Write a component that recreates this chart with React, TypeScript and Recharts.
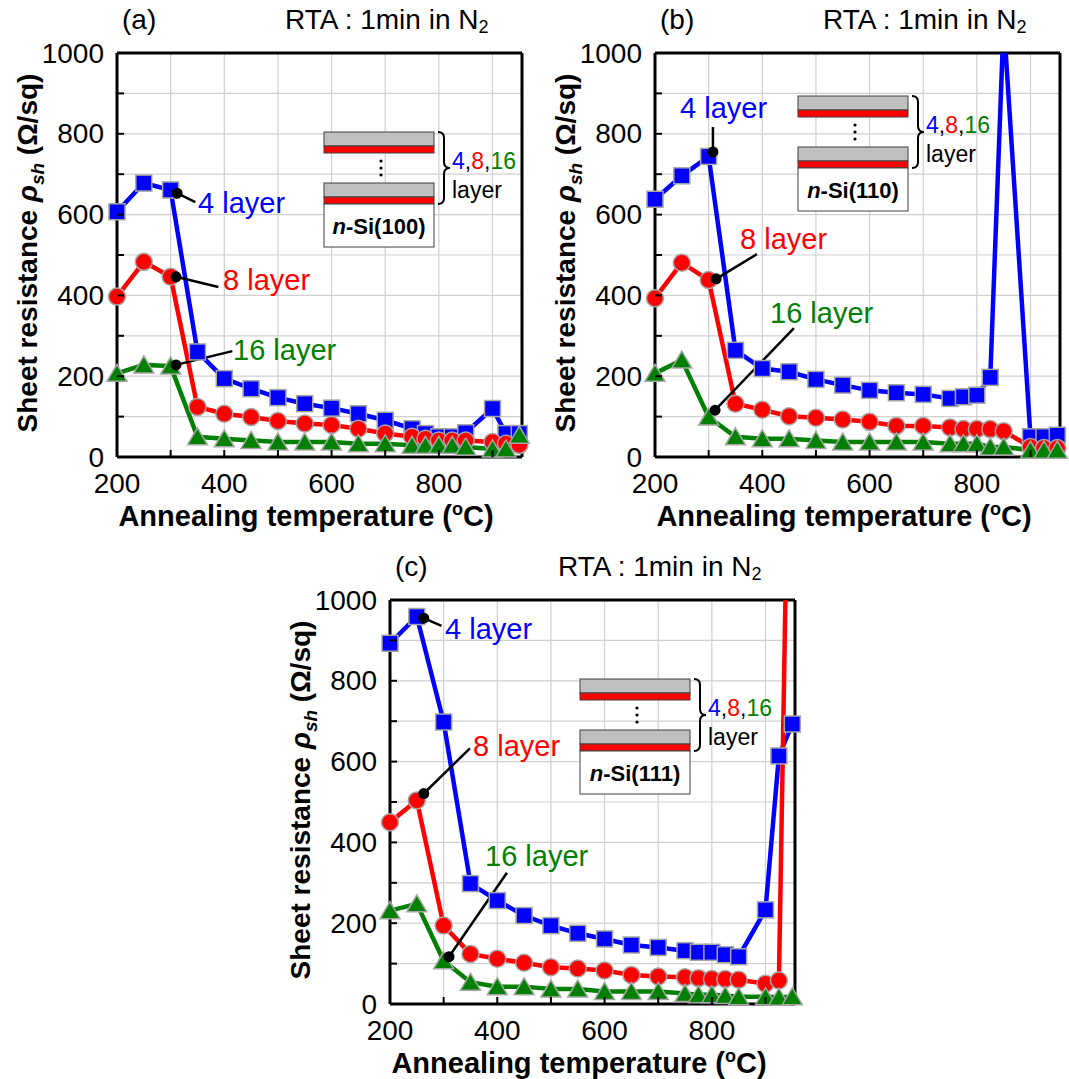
import React from "react";
import {
  LineChart,
  Line,
  XAxis,
  YAxis,
  CartesianGrid,
  ReferenceLine,
  ReferenceDot,
} from "recharts";

// annealing temperatures (°C)
const temps = [200, 250, 300, 350, 400, 450, 500, 550, 600, 650, 700, 750, 775, 800, 825, 850, 900, 925, 950];

// (a) n-Si(100)
const a4 = [607, 678, 661, 260, 194, 169, 147, 132, 121, 107, 91, 70, 58, 50, 50, 60, 120, 58, 58];
const a8 = [397, 483, 446, 124, 107, 99, 89, 83, 79, 70, 58, 50, 45, 41, 41, 41, 37, 33, 30];
const a16 = [207, 228, 225, 50, 45, 41, 37, 37, 37, 33, 33, 29, 29, 29, 29, 25, 20, 20, 54];

// (b) n-Si(110)
const b4 = [638, 696, 744, 264, 219, 211, 192, 178, 165, 159, 155, 145, 149, 153, 197, 1080, 50, 50, 54];
const b8 = [393, 481, 438, 132, 117, 101, 97, 93, 87, 77, 77, 73, 69, 69, 69, 64, 25, 22, 22];
const b16 = [207, 240, 99, 50, 45, 45, 41, 37, 37, 37, 37, 33, 33, 33, 25, 25, 17, 17, 17];

// (c) n-Si(111)
const c4 = [893, 959, 698, 298, 256, 219, 194, 175, 161, 146, 140, 132, 128, 128, 122, 117, 233, 614, 693];
const c8 = [450, 504, 194, 124, 112, 102, 91, 88, 83, 72, 68, 66, 64, 62, 62, 60, 50, 58, 2000];
const c16 = [231, 248, 107, 54, 43, 43, 37, 37, 31, 31, 31, 26, 23, 23, 21, 18, 18, 17, 18];

const xTicks = [200, 300, 400, 500, 600, 700, 800, 900];
const yTicks = [0, 100, 200, 300, 400, 500, 600, 700, 800, 900, 1000];

const FONT = '"Liberation Sans", Arial, Helvetica, sans-serif';
const BLUE = "#0000ff";
const RED = "#ff0000";
const GREEN = "#008000";
const EDGE = "#a6a6a6";

const XTick = (p: any) => {
  const v = p.payload.value;
  return (
    <g>
      {v > 200 && <line x1={p.x} x2={p.x} y1={p.y} y2={p.y - 7} stroke="#000" strokeWidth={2} />}
      {v % 200 === 0 && (
        <text x={p.x} y={p.y + 26} textAnchor="middle" dominantBaseline="central" fontSize={28} fontFamily={FONT} fill="#000">
          {v}
        </text>
      )}
    </g>
  );
};

const YTick = (p: any) => {
  const v = p.payload.value;
  return (
    <g>
      {v > 0 && v < 1000 && <line x1={p.x} x2={p.x + 7} y1={p.y} y2={p.y} stroke="#000" strokeWidth={2} />}
      {v % 200 === 0 && (
        <text x={p.x - 13} y={p.y} textAnchor="end" dominantBaseline="central" fontSize={28} fontFamily={FONT} fill="#000">
          {v}
        </text>
      )}
    </g>
  );
};

const square = (p: any) =>
  p.cy == null ? <g key={`s${p.index}`} /> : (
    <rect key={`s${p.index}`} x={p.cx - 8} y={p.cy - 8} width={16} height={16} fill={BLUE} stroke={EDGE} strokeWidth={1.5} />
  );

const circle = (p: any) =>
  p.cy == null ? <g key={`c${p.index}`} /> : (
    <circle key={`c${p.index}`} cx={p.cx} cy={p.cy} r={8.5} fill={RED} stroke={EDGE} strokeWidth={1.5} />
  );

const triangle = (p: any) =>
  p.cy == null ? <g key={`t${p.index}`} /> : (
    <polygon
      key={`t${p.index}`}
      points={`${p.cx},${p.cy - 9} ${p.cx + 10},${p.cy + 8} ${p.cx - 10},${p.cy + 8}`}
      fill={GREEN}
      stroke={EDGE}
      strokeWidth={1.5}
    />
  );

type Ann = { text: string; color: string; dot: [number, number]; end: [number, number]; lx: number; ly: number };

type PanelProps = {
  x: number;
  y: number;
  w: number;
  letter: string;
  substrate: string;
  s4: number[];
  s8: number[];
  s16: number[];
  inset: [number, number];
  anns: Ann[];
};

function Inset({ substrate }: { substrate: string }) {
  return (
    <svg width={200} height={120} style={{ overflow: "visible" }}>
      <rect x={0} y={0} width={110} height={14} fill="#bfbfbf" stroke="#404040" strokeWidth={1} />
      <rect x={0} y={14} width={110} height={7} fill={RED} stroke="#404040" strokeWidth={1} />
      <circle cx={57} cy={29} r={1.6} fill="#000" />
      <circle cx={57} cy={36} r={1.6} fill="#000" />
      <circle cx={57} cy={43} r={1.6} fill="#000" />
      <rect x={0} y={51} width={110} height={14} fill="#bfbfbf" stroke="#404040" strokeWidth={1} />
      <rect x={0} y={65} width={110} height={7} fill={RED} stroke="#404040" strokeWidth={1} />
      <rect x={0} y={72} width={110} height={43} fill="#fff" stroke="#404040" strokeWidth={1} />
      <text x={55} y={94} textAnchor="middle" dominantBaseline="central" fontSize={22} fontWeight="bold" fontFamily={FONT}>
        <tspan fontStyle="italic">n</tspan>-{substrate}
      </text>
      <path d="M114,0 Q120,0 120,6 L120,30 Q120,36 126,36 Q120,36 120,42 L120,66 Q120,72 114,72" fill="none" stroke="#000" strokeWidth={2} />
      <text x={128} y={29} dominantBaseline="central" fontSize={23} fontFamily={FONT}>
        <tspan fill={BLUE}>4</tspan>
        <tspan fill="#000">,</tspan>
        <tspan fill={RED}>8</tspan>
        <tspan fill="#000">,</tspan>
        <tspan fill={GREEN}>16</tspan>
      </text>
      <text x={128} y={58} dominantBaseline="central" fontSize={23} fontFamily={FONT} fill="#000">
        layer
      </text>
    </svg>
  );
}

function Panel({ x, y, w, letter, substrate, s4, s8, s16, inset, anns }: PanelProps) {
  const rows = temps.map((t, i) => ({
    t,
    s4: s4[i],
    s8: s8[i],
    s16: s16[i],
    m4: s4[i] <= 1000 ? s4[i] : null,
    m8: s8[i] <= 1000 ? s8[i] : null,
    m16: s16[i] <= 1000 ? s16[i] : null,
  }));
  const px = x + 117;
  const py = y + 53;
  const abs = (l: number, t: number): React.CSSProperties => ({ position: "absolute", left: l, top: t, whiteSpace: "nowrap" });

  return (
    <>
      <div style={{ position: "absolute", left: x, top: y }}>
        <LineChart width={w} height={530} data={rows} margin={{ top: 53, right: w - 522, bottom: 33, left: 57 }}>
          <CartesianGrid stroke="#cfcfcf" strokeWidth={1.2} />
          <XAxis
            dataKey="t"
            type="number"
            domain={[200, 955]}
            ticks={xTicks}
            interval={0}
            tickSize={0}
            tickMargin={0}
            tick={XTick}
            height={40}
            axisLine={{ stroke: "#000", strokeWidth: 3 }}
          />
          <YAxis
            type="number"
            domain={[0, 1000]}
            ticks={yTicks}
            interval={0}
            width={60}
            tickSize={0}
            tickMargin={0}
            tick={YTick}
            axisLine={{ stroke: "#000", strokeWidth: 3 }}
          />
          <YAxis yAxisId="clip" hide width={0} type="number" domain={[0, 1000]} allowDataOverflow />
          <ReferenceLine y={1000} stroke="#000" strokeWidth={3} />
          <ReferenceLine x={955} stroke="#000" strokeWidth={3} />

          <Line yAxisId="clip" dataKey="s4" stroke={BLUE} strokeWidth={4.5} dot={false} activeDot={false} isAnimationActive={false} />
          <Line dataKey="m4" stroke="none" dot={square} activeDot={false} isAnimationActive={false} />
          <Line yAxisId="clip" dataKey="s8" stroke={RED} strokeWidth={4.5} dot={false} activeDot={false} isAnimationActive={false} />
          <Line dataKey="m8" stroke="none" dot={circle} activeDot={false} isAnimationActive={false} />
          <Line yAxisId="clip" dataKey="s16" stroke={GREEN} strokeWidth={4.5} dot={false} activeDot={false} isAnimationActive={false} />
          <Line dataKey="m16" stroke="none" dot={triangle} activeDot={false} isAnimationActive={false} />

          {anns.map((a) => (
            <ReferenceLine
              key={`l${a.text}`}
              segment={[
                { x: a.dot[0], y: a.dot[1] },
                { x: a.end[0], y: a.end[1] },
              ]}
              stroke="#000"
              strokeWidth={2.5}
            />
          ))}
          {anns.map((a) => (
            <ReferenceDot key={`d${a.text}`} x={a.dot[0]} y={a.dot[1]} r={5.5} fill="#000" stroke="none" />
          ))}
        </LineChart>
      </div>

      {/* titles */}
      <div style={{ ...abs(px + 5, py - 50), fontSize: 28, lineHeight: "34px" }}>({letter})</div>
      <div style={{ ...abs(px + 168, py - 50), fontSize: 28, lineHeight: "34px" }}>
        RTA : 1min in N<sub style={{ fontSize: 18, verticalAlign: "-4px", lineHeight: 0 }}>2</sub>
      </div>

      {/* axis titles */}
      <div
        style={{
          ...abs(px - 89, py + 200),
          transform: "translate(-50%, -50%) rotate(-90deg)",
          fontSize: 28,
          fontWeight: "bold",
        }}
      >
        Sheet resistance <i>ρ<sub style={{ fontSize: 19, lineHeight: 0 }}>sh</sub></i> (Ω/sq)
      </div>
      <div
        style={{
          ...abs(px + 189, py + 463),
          transform: "translate(-50%, -50%)",
          fontSize: 29,
          fontWeight: "bold",
          lineHeight: "30px",
        }}
      >
        Annealing temperature (<sup style={{ fontSize: 18, lineHeight: 0 }}>o</sup>C)
      </div>

      {/* inset */}
      <div style={abs(inset[0], inset[1])}>
        <Inset substrate={substrate} />
      </div>

      {/* series labels */}
      {anns.map((a) => (
        <div
          key={`t${a.text}`}
          style={{ ...abs(px + a.lx, py + a.ly), transform: "translateY(-50%)", fontSize: 29, color: a.color, lineHeight: "34px" }}
        >
          {a.text}
        </div>
      ))}
    </>
  );
}

const panels: PanelProps[] = [
  {
    x: 0,
    y: 0,
    w: 538,
    letter: "a",
    substrate: "Si(100)",
    s4: a4,
    s8: a8,
    s16: a16,
    inset: [324, 132],
    anns: [
      { text: "4 layer", color: BLUE, dot: [312, 653], end: [346, 631], lx: 81, ly: 150 },
      { text: "8 layer", color: RED, dot: [310, 446], end: [389, 421], lx: 106, ly: 227 },
      { text: "16 layer", color: GREEN, dot: [310, 228], end: [415, 262], lx: 116, ly: 297 },
    ],
  },
  {
    x: 538,
    y: 0,
    w: 531,
    letter: "b",
    substrate: "Si(110)",
    s4: b4,
    s8: b8,
    s16: b16,
    inset: [798, 96],
    anns: [
      { text: "4 layer", color: BLUE, dot: [308, 755], end: [308, 817], lx: 25, ly: 55 },
      { text: "8 layer", color: RED, dot: [314, 441], end: [390, 502], lx: 85, ly: 186 },
      { text: "16 layer", color: GREEN, dot: [312, 116], end: [459, 319], lx: 115, ly: 260 },
    ],
  },
  {
    x: 273,
    y: 547,
    w: 538,
    letter: "c",
    substrate: "Si(111)",
    s4: c4,
    s8: c8,
    s16: c16,
    inset: [580, 679],
    anns: [
      { text: "4 layer", color: BLUE, dot: [263, 955], end: [296, 936], lx: 55, ly: 29 },
      { text: "8 layer", color: RED, dot: [263, 521], end: [349, 633], lx: 83, ly: 146 },
      { text: "16 layer", color: GREEN, dot: [310, 117], end: [418, 325], lx: 95, ly: 256 },
    ],
  },
];

export default function App() {
  return (
    <div
      style={{
        position: "absolute",
        left: 0,
        top: 0,
        width: 1069,
        height: 1079,
        background: "#fff",
        overflow: "hidden",
        fontFamily: FONT,
        color: "#000",
      }}
    >
      {panels.map((p) => (
        <Panel key={p.letter} {...p} />
      ))}
    </div>
  );
}
